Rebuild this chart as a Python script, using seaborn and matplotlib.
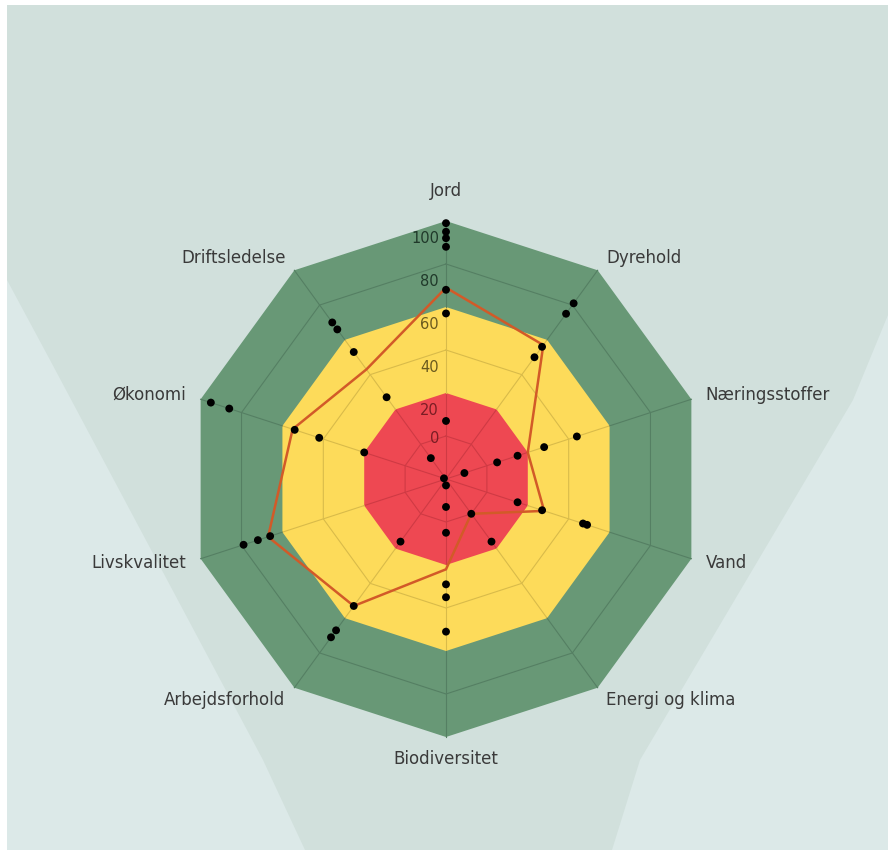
import numpy as np
import pandas as pd
import matplotlib
matplotlib.use("Agg")
import matplotlib.pyplot as plt
import seaborn as sns
from matplotlib.patches import Polygon, Rectangle

# ---------------- data ----------------
categories = ["Jord", "Dyrehold", "Næringsstoffer", "Vand", "Energi og klima",
              "Biodiversitet", "Arbejdsforhold", "Livskvalitet", "Økonomi", "Driftsledelse"]

dots_jord = [99, 95, 92, 88, 68, 57, 7]
dots_dyrehold = [81, 75, 56, 50]
dots_naering = [-11, 5, 15, 28, 44]
dots_vand = [15, 27, 47, 49]
dots_energi = [0, 16]
dots_biodiv = [-17, -7, 5, 29, 35, 51]
dots_arbejde = [16, 53, 67, 71]
dots_livskval = [66, 72, 79]
dots_oekonomi = [-19, 20, 42, 54, 86, 95]
dots_drift = [-8, 27, 53, 66, 70]

farm_line = [69, 57, 20, 28, 0, 22, 53, 67, 55, 43]

zone_limits = [20, 60, 100]          # red / yellow / green outer edges
ring_values = [0, 40, 80]
tick_values = [0, 20, 40, 60, 80, 100]

# ---------------- style ----------------
W, H = 895, 855
BG = "#d1e0dc"
BG_LIGHT = "#dce9e8"
GREEN, YELLOW, RED = "#689876", "#fddb5a", "#ee4852"
GREEN_G, YELLOW_G, RED_G = "#557f63", "#d9bb4a", "#cf3a44"
LINE_C = "#d25a28"
TXT = "#3a3a3a"

fig = plt.figure(figsize=(W / 100, H / 100), dpi=100, facecolor="white")

def fx(x, y):
    return (x / W, 1 - y / H)

# background panel + lighter side wedges
fig.patches.append(Rectangle(fx(7, 850), 881 / W, 845 / H, transform=fig.transFigure,
                             facecolor=BG, edgecolor="none", zorder=-2))
left_pts = [(7, 280), (50, 360), (263, 760), (305, 850), (7, 850)]
right_pts = [(888, 315), (853, 400), (640, 760), (612, 850), (888, 850)]
for pts in (left_pts, right_pts):
    fig.patches.append(Polygon([fx(*p) for p in pts], closed=True, transform=fig.transFigure,
                               facecolor=BG_LIGHT, edgecolor="none", zorder=-1))

cx, cy = 446, 479
rmin, rmax = -20, 105
scale = 2.15
Rax = (rmax - rmin) * scale
ax = fig.add_axes([(cx - Rax) / W, (H - cy - Rax) / H, 2 * Rax / W, 2 * Rax / H],
                  projection="polar")
ax.set_zorder(1)
ax.set_theta_zero_location("N")
ax.set_theta_direction(-1)
ax.set_ylim(rmin, rmax)
ax.set_facecolor("none")
ax.grid(False)
ax.spines["polar"].set_visible(False)
ax.set_xticks([])
ax.set_yticks([])

n = len(categories)
theta = np.deg2rad(np.arange(n) * 360 / n)
theta_c = np.append(theta, theta[0])

# zones
for lim, col in zip(zone_limits[::-1], [GREEN, YELLOW, RED]):
    ax.fill(theta_c, [lim] * (n + 1), color=col, lw=0, zorder=1)

# rings
for rv, gc in zip(ring_values, [RED_G, YELLOW_G, GREEN_G]):
    ax.plot(theta_c, [rv] * (n + 1), color=gc, lw=0.8, zorder=2)
# spokes
bounds = [rmin] + zone_limits
for t in theta:
    for (a, b), gc in zip(zip(bounds[:-1], bounds[1:]), [RED_G, YELLOW_G, GREEN_G]):
        ax.plot([t, t], [a, b], color=gc, lw=0.8, zorder=2)

# farm line
line_df = pd.DataFrame({"theta": theta_c, "value": farm_line + [farm_line[0]]})
sns.lineplot(data=line_df, x="theta", y="value", sort=False, estimator=None,
             color=LINE_C, lw=1.8, ax=ax, zorder=4)
for l in ax.lines[-1:]:
    l.set_solid_joinstyle("miter")

# dots
all_dots = [dots_jord, dots_dyrehold, dots_naering, dots_vand, dots_energi,
            dots_biodiv, dots_arbejde, dots_livskval, dots_oekonomi, dots_drift]
rows = []
for t, vals in zip(theta, all_dots):
    for v in vals:
        rows.append({"theta": t, "value": v})
dot_df = pd.DataFrame(rows)
sns.scatterplot(data=dot_df, x="theta", y="value", color="black", s=32,
                edgecolor="none", ax=ax, zorder=5, legend=False, clip_on=False)
ax.set_xlabel("")
ax.set_ylabel("")

# radial tick labels along Jord axis
tick_cols = ["#7a1d24", "#7a1d24", "#6a5a1e", "#6a5a1e", "#20392a", "#20392a"]
for tv, tc in zip(tick_values, tick_cols):
    pos = tv - 8 if tv else -1
    ax.annotate(str(tv), xy=(0, pos), xytext=(-5, 0), textcoords="offset points",
                ha="right", va="center", fontsize=10.5, color=tc, zorder=6)

# category labels
for i, (t, lab) in enumerate(zip(theta, categories)):
    deg = i * 360 / n
    if deg == 0:
        ax.text(t, 114, lab, ha="center", va="center", fontsize=12, color=TXT)
    elif deg == 180:
        ax.text(t, 110, lab, ha="center", va="center", fontsize=12, color=TXT)
    elif deg < 180:
        ax.text(t, 107, lab, ha="left", va="center", fontsize=12, color=TXT)
    else:
        ax.text(t, 107, lab, ha="right", va="center", fontsize=12, color=TXT)

fig.savefig("out.png", dpi=100, facecolor="white")
